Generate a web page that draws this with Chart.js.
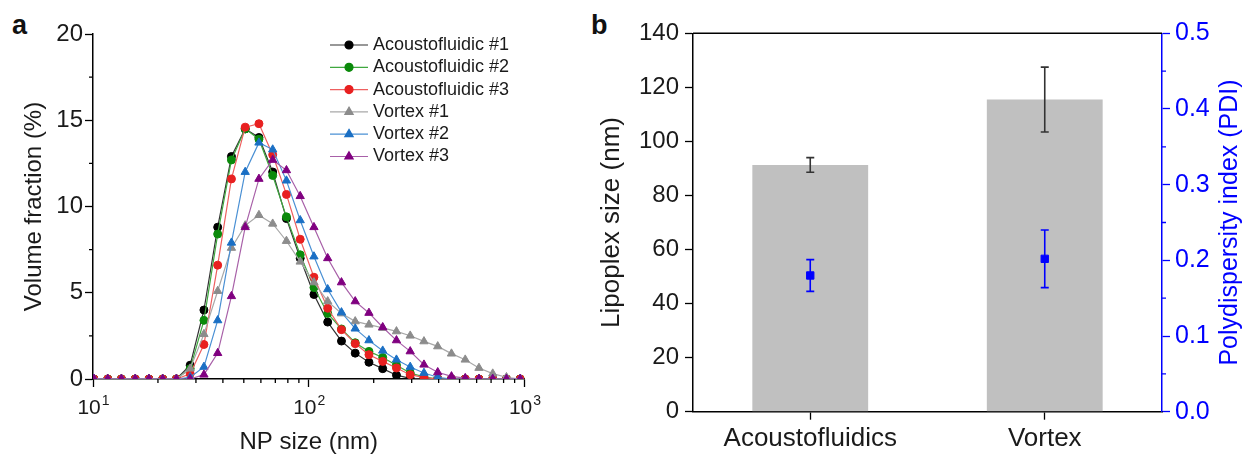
<!DOCTYPE html>
<html lang="en">
<head>
<meta charset="UTF-8">
<title>Lipoplex size distribution</title>
<script src="https://cdn.jsdelivr.net/npm/chart.js"></script>
<style>
    body {
        margin: 0;
        background: #fff;
        font-family: "Liberation Sans", Arial, sans-serif;
    }
    .page {
        position: relative;
        width: 1246px;
        height: 457px;
        overflow: hidden;
    }
    .page canvas {
        position: absolute;
        top: 0;
    }
    .panel-tag {
        position: absolute;
        top: 12px;
        font-size: 27px;
        line-height: 27px;
        font-weight: bold;
        color: #111;
    }
</style>
</head>
<body>
<div class="page">
    <div class="panel-tag" style="left: 12px;">a</div>
    <div class="panel-tag" style="left: 591px;">b</div>
    <canvas id="sizeDist" width="560" height="457" style="left: 0;"></canvas>
    <canvas id="lipoplex" width="666" height="457" style="left: 580px;"></canvas>
</div>

<script>
    // size bins (nm) and volume fraction (%) per sample
    const sizeBins = [10.1, 11.7, 13.54, 15.69, 18.17, 21.04, 24.36, 28.21, 32.67, 37.84, 43.82,
        50.75, 58.77, 68.06, 78.82, 91.28, 105.7, 122.4, 141.8, 164.2, 190.1, 220.2, 255,
        295.3, 342, 396.1, 458.7, 531.2, 615.1, 712.4, 825, 955.4];
    const acoustic1 = [0, 0, 0, 0, 0, 0, 0, 0.8, 4.0, 8.8, 12.9, 14.5, 14.0, 12.0, 9.3, 7.0, 4.9,
        3.3, 2.2, 1.5, 0.97, 0.6, 0.22, 0.04, 0, 0, 0, 0, 0, 0, 0, 0];
    const acoustic2 = [0, 0, 0, 0, 0, 0, 0, 0.6, 3.4, 8.4, 12.7, 14.5, 13.9, 11.8, 9.4, 7.2, 5.3,
        3.8, 2.9, 2.1, 1.6, 1.25, 0.8, 0.35, 0.12, 0, 0, 0, 0, 0, 0, 0];
    const acoustic3 = [0, 0, 0, 0, 0, 0, 0, 0.3, 2.0, 6.6, 11.6, 14.6, 14.8, 13.0, 10.7, 8.1, 5.9,
        4.1, 2.86, 2.05, 1.41, 1.02, 0.64, 0.25, 0.08, 0, 0, 0, 0, 0, 0, 0];
    const vortex1 = [0, 0, 0, 0, 0, 0, 0, 0.6, 2.6, 5.1, 7.6, 8.9, 9.5, 9.0, 8.0, 6.8, 5.6,
        4.5, 3.8, 3.34, 3.15, 2.96, 2.76, 2.51, 2.18, 1.89, 1.47, 1.12, 0.64, 0.31, 0.1, 0];
    const vortex2 = [0, 0, 0, 0, 0, 0, 0, 0.1, 0.7, 3.4, 7.9, 12.0, 13.7, 13.3, 11.5, 9.2, 7.1,
        5.2, 3.86, 2.92, 2.24, 1.64, 1.12, 0.7, 0.35, 0.1, 0, 0, 0, 0, 0, 0];
    const vortex3 = [0, 0, 0, 0, 0, 0, 0, 0, 0.25, 1.5, 4.8, 8.8, 11.6, 12.7, 12.1, 10.6, 8.8,
        7.0, 5.6, 4.5, 3.83, 3.0, 2.24, 1.6, 0.83, 0.39, 0.15, 0.05, 0, 0, 0, 0];
    const sizeTicks = [10, 100, 1000];
    const fractionTicks = [0, 5, 10, 15, 20];

    // lipoplex size (nm) and PDI, mean and SD
    const methods = ['Acoustofluidics', 'Vortex'];
    const lipoSize = [91.3, 115.5];
    const lipoSizeSd = [2.7, 12.0];
    const pdi = [0.180, 0.202];
    const pdiSd = [0.021, 0.038];

    const FONT = '"Liberation Sans", Arial, sans-serif';
    const INK = '#1a1a1a';
    const BLUE = '#0000ff';
    Chart.defaults.font.family = FONT;
    Chart.defaults.color = INK;

    // short ticks between the labelled ones
    const minorTicks = {
        id: 'minorTicks',
        afterDraw(chart, args, opts) {
            const ctx = chart.ctx;
            (opts.sets || []).forEach(m => {
                const s = chart.scales[m.axis];
                ctx.save();
                ctx.strokeStyle = m.color || '#000';
                ctx.lineWidth = 1.3;
                ctx.beginPath();
                m.values.forEach(v => {
                    const p = s.getPixelForValue(v);
                    if (s.isHorizontal()) {
                        ctx.moveTo(p, s.top);
                        ctx.lineTo(p, s.top + m.length);
                    } else if (s.position === 'left') {
                        ctx.moveTo(s.right, p);
                        ctx.lineTo(s.right - m.length, p);
                    } else {
                        ctx.moveTo(s.left, p);
                        ctx.lineTo(s.left + m.length, p);
                    }
                });
                ctx.stroke();
                ctx.restore();
            });
        }
    };

    // decade labels as 10 with a raised exponent
    const powerLabels = {
        id: 'powerLabels',
        afterDraw(chart, args, opts) {
            const s = chart.scales[opts.axis];
            const ctx = chart.ctx;
            ctx.save();
            ctx.fillStyle = INK;
            ctx.textBaseline = 'alphabetic';
            ctx.textAlign = 'left';
            s.ticks.forEach(t => {
                const exp = String(Math.round(Math.log10(t.value)));
                ctx.font = opts.size + 'px ' + FONT;
                const wBase = ctx.measureText('10').width;
                ctx.font = opts.expSize + 'px ' + FONT;
                const wExp = ctx.measureText(exp).width;
                const x0 = s.getPixelForValue(t.value) - (wBase + wExp) / 2;
                const y = s.top + opts.baseline;
                ctx.font = opts.size + 'px ' + FONT;
                ctx.fillText('10', x0, y);
                ctx.font = opts.expSize + 'px ' + FONT;
                ctx.fillText(exp, x0 + wBase + 1, y - opts.raise);
            });
            ctx.restore();
        }
    };

    function drawMarker(ctx, style, r, x, y) {
        if (Chart.helpers && Chart.helpers.drawPoint) {
            Chart.helpers.drawPoint(ctx, {pointStyle: style, radius: r, rotation: 0, borderWidth: 1}, x, y);
            return;
        }
        ctx.beginPath();
        if (style === 'triangle') {
            ctx.moveTo(x, y - r);
            ctx.lineTo(x + r * 0.866, y + r / 2);
            ctx.lineTo(x - r * 0.866, y + r / 2);
            ctx.closePath();
        } else {
            ctx.arc(x, y, r, 0, Math.PI * 2);
        }
        ctx.fill();
        ctx.stroke();
    }

    // legend with a short line through the marker
    const lineLegend = {
        id: 'lineLegend',
        afterDraw(chart, args, opts) {
            const ctx = chart.ctx;
            ctx.save();
            ctx.font = opts.size + 'px ' + FONT;
            ctx.textBaseline = 'middle';
            chart.data.datasets.forEach((ds, i) => {
                const y = opts.top + i * opts.row;
                ctx.strokeStyle = ds.borderColor;
                ctx.lineWidth = 1.2;
                ctx.beginPath();
                ctx.moveTo(opts.left, y);
                ctx.lineTo(opts.left + opts.line, y);
                ctx.stroke();
                ctx.fillStyle = ds.pointBackgroundColor;
                ctx.strokeStyle = ds.pointBorderColor;
                drawMarker(ctx, ds.pointStyle, ds.pointRadius, opts.left + opts.line / 2, y);
                ctx.fillStyle = INK;
                ctx.fillText(ds.label, opts.left + opts.line + opts.gap, y);
            });
            ctx.restore();
        }
    };

    function series(label, values, marker, line, style, r) {
        return {
            label: label,
            data: sizeBins.map((x, i) => ({x: x, y: values[i]})),
            borderColor: line,
            borderWidth: 1.2,
            pointStyle: style,
            pointRadius: r,
            pointBorderWidth: 1,
            pointBackgroundColor: marker,
            pointBorderColor: marker,
            tension: 0
        };
    }

    const distSets = [
        series('Acoustofluidic #1', acoustic1, '#000000', '#333333', 'circle', 4),
        series('Acoustofluidic #2', acoustic2, '#0b8a0b', '#3fa83f', 'circle', 4),
        series('Acoustofluidic #3', acoustic3, '#e82020', '#ee6060', 'circle', 4),
        series('Vortex #1', vortex1, '#8c8c8c', '#a8a8a8', 'triangle', 4.8),
        series('Vortex #2', vortex2, '#1a6fc4', '#4a90d4', 'triangle', 4.8),
        series('Vortex #3', vortex3, '#800080', '#a860a8', 'triangle', 4.8)
    ];
    distSets.forEach((ds, i) => { ds.order = distSets.length - 1 - i; });

    new Chart(document.getElementById('sizeDist'), {
        type: 'line',
        data: {datasets: distSets},
        plugins: [minorTicks, powerLabels, lineLegend],
        options: {
            responsive: false,
            animation: false,
            devicePixelRatio: 1,
            layout: {padding: {top: 34, right: 35.5, left: 0, bottom: 0}},
            plugins: {
                legend: {display: false},
                tooltip: {enabled: false},
                minorTicks: {
                    sets: [
                        {axis: 'x', length: 4, values: [20, 30, 40, 50, 60, 70, 80, 90, 200, 300, 400, 500, 600, 700, 800, 900]},
                        {axis: 'y', length: 4, values: [2.5, 7.5, 12.5, 17.5]}
                    ]
                },
                powerLabels: {axis: 'x', size: 21, expSize: 14, baseline: 35, raise: 9},
                lineLegend: {left: 330, top: 45, row: 22.3, line: 38, gap: 5, size: 18}
            },
            scales: {
                x: {
                    type: 'logarithmic',
                    min: 10,
                    max: 1000,
                    afterBuildTicks: s => { s.ticks = sizeTicks.map(v => ({value: v})); },
                    afterFit: s => { s.height = 78; },
                    ticks: {display: false},
                    grid: {drawOnChartArea: false, tickLength: 8, color: '#000', tickWidth: 1.3},
                    border: {display: true, color: '#000', width: 1.5},
                    title: {display: true, text: 'NP size (nm)', font: {size: 24}, color: INK, padding: {top: 0, bottom: 0}}
                },
                y: {
                    min: 0,
                    max: 20,
                    afterBuildTicks: s => { s.ticks = fractionTicks.map(v => ({value: v})); },
                    afterFit: s => { s.width = 93; },
                    ticks: {padding: 2, font: {size: 24}, color: INK},
                    grid: {drawOnChartArea: false, tickLength: 8, color: '#000', tickWidth: 1.3},
                    border: {display: true, color: '#000', width: 1.5},
                    title: {display: true, text: 'Volume fraction (%)', font: {size: 24}, color: INK, padding: {top: 20, bottom: 0}}
                }
            }
        }
    });

    // error bars, top frame line and the right-hand title
    const barExtras = {
        id: 'barExtras',
        afterDatasetDraw(chart, args, opts) {
            if (args.index === 0) drawErrors(chart, 0, lipoSizeSd, '#333333');
        },
        beforeDatasetDraw(chart, args, opts) {
            if (args.index === 1) drawErrors(chart, 1, pdiSd, BLUE);
        },
        afterDraw(chart, args, opts) {
            const ctx = chart.ctx;
            const a = chart.chartArea;
            ctx.save();
            ctx.strokeStyle = '#000';
            ctx.lineWidth = 1.5;
            ctx.beginPath();
            ctx.moveTo(a.left, a.top);
            ctx.lineTo(a.right, a.top);
            ctx.stroke();
            ctx.translate(opts.titleX, (a.top + a.bottom) / 2);
            ctx.rotate(-Math.PI / 2);
            ctx.fillStyle = BLUE;
            ctx.font = opts.titleSize + 'px ' + FONT;
            ctx.textAlign = 'center';
            ctx.textBaseline = 'middle';
            ctx.fillText(opts.title, 0, 0);
            ctx.restore();
        }
    };

    function drawErrors(chart, index, sd, color) {
        const meta = chart.getDatasetMeta(index);
        const s = chart.scales[meta.yAxisID];
        const values = chart.data.datasets[index].data;
        const ctx = chart.ctx;
        ctx.save();
        ctx.strokeStyle = color;
        ctx.lineWidth = 1.6;
        meta.data.forEach((el, i) => {
            const hi = s.getPixelForValue(values[i] + sd[i]);
            const lo = s.getPixelForValue(values[i] - sd[i]);
            ctx.beginPath();
            ctx.moveTo(el.x, hi);
            ctx.lineTo(el.x, lo);
            ctx.moveTo(el.x - 4, hi);
            ctx.lineTo(el.x + 4, hi);
            ctx.moveTo(el.x - 4, lo);
            ctx.lineTo(el.x + 4, lo);
            ctx.stroke();
        });
        ctx.restore();
    }

    new Chart(document.getElementById('lipoplex'), {
        type: 'bar',
        data: {
            labels: methods,
            datasets: [{
                label: 'Lipoplex size',
                data: lipoSize,
                backgroundColor: '#c0c0c0',
                barPercentage: 0.494,
                categoryPercentage: 1,
                yAxisID: 'y',
                order: 2
            }, {
                type: 'line',
                label: 'PDI',
                data: pdi,
                yAxisID: 'y2',
                showLine: false,
                pointStyle: 'rect',
                pointRadius: 5.2,
                pointBorderWidth: 1,
                pointBackgroundColor: BLUE,
                pointBorderColor: BLUE,
                order: 1
            }]
        },
        plugins: [minorTicks, barExtras],
        options: {
            responsive: false,
            animation: false,
            devicePixelRatio: 1,
            layout: {padding: {top: 33.3, right: 0, left: 0, bottom: 0}},
            plugins: {
                legend: {display: false},
                tooltip: {enabled: false},
                minorTicks: {
                    sets: [{axis: 'y2', length: 4, color: BLUE, values: [0.05, 0.15, 0.25, 0.35, 0.45]}]
                },
                barExtras: {title: 'Polydispersity index (PDI)', titleX: 650, titleSize: 25}
            },
            scales: {
                x: {
                    afterFit: s => { s.height = 45.3; },
                    ticks: {padding: 4, font: {size: 26}, color: INK, maxRotation: 0},
                    grid: {drawOnChartArea: false, offset: false, tickLength: 8, color: '#000', tickWidth: 1.3},
                    border: {display: true, color: '#000', width: 1.5}
                },
                y: {
                    position: 'left',
                    min: 0,
                    max: 140,
                    afterFit: s => { s.width = 113; },
                    ticks: {stepSize: 20, padding: 6, font: {size: 24}, color: INK},
                    grid: {drawOnChartArea: false, tickLength: 8, color: '#000', tickWidth: 1.3},
                    border: {display: true, color: '#000', width: 1.5},
                    title: {display: true, text: 'Lipoplex size (nm)', font: {size: 26}, color: INK, padding: {top: 16, bottom: 0}}
                },
                y2: {
                    position: 'right',
                    min: 0,
                    max: 0.5,
                    afterFit: s => { s.width = 84; },
                    ticks: {stepSize: 0.1, padding: 5, font: {size: 25}, color: BLUE, callback: v => v.toFixed(1)},
                    grid: {drawOnChartArea: false, tickLength: 8, color: BLUE, tickWidth: 1.3},
                    border: {display: true, color: BLUE, width: 1.5}
                }
            }
        }
    });
</script>
</body>
</html>
